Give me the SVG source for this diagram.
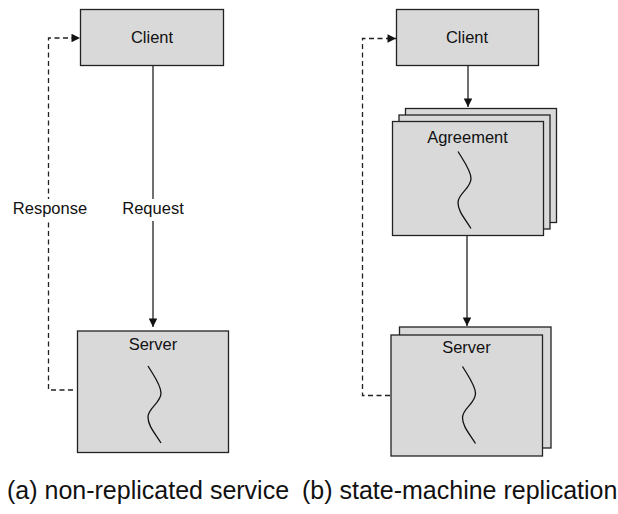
<svg xmlns="http://www.w3.org/2000/svg" xmlns:xlink="http://www.w3.org/1999/xlink" width="618" height="514" viewBox="0 0 618 514">
  <style>
    .box { fill: #d9d9d9; stroke: #222; stroke-width: 1.3; }
    .lbl { font-family: "Liberation Sans", Arial, sans-serif; font-size: 16.5px; fill: #111; text-anchor: middle; }
    .cap { font-family: "Liberation Sans", Arial, sans-serif; font-size: 25px; fill: #111; }
    .edge { fill: none; stroke: #222; stroke-width: 1.3; }
    .dash { stroke-dasharray: 5 3.5; }
    .wave { fill: none; stroke: #111; stroke-width: 1.3; }
    .bg { fill: #fff; }
  </style>
  <defs>
    <marker id="arrow" viewBox="0 0 10 10" refX="10" refY="5" markerWidth="11" markerHeight="8.5" markerUnits="userSpaceOnUse" orient="auto">
      <path d="M0,0 L10,5 L0,10 Z" fill="#111"/>
    </marker>
    <!-- thread squiggle drawn inside the process boxes -->
    <path id="thread" d="M0,0 C6,10 13,19 13,27 C13,37 0,42 0,51 C0,60 7,67 13,77"/>
  </defs>

  <!-- connectors -->
  <g id="connectors">
    <!-- (a) request / response -->
    <line class="edge" x1="153" y1="65.5" x2="153" y2="327" marker-end="url(#arrow)"/>
    <polyline class="edge dash" points="73,390 48.5,390 48.5,38 80,38" marker-end="url(#arrow)"/>
    <!-- (b) client -> agreement -> server, response back -->
    <line class="edge" x1="468" y1="65.5" x2="468" y2="107" marker-end="url(#arrow)"/>
    <line class="edge" x1="467" y1="235.5" x2="467" y2="326" marker-end="url(#arrow)"/>
    <polyline class="edge dash" points="390,395.5 362.5,395.5 362.5,38.5 396,38.5" marker-end="url(#arrow)"/>
  </g>

  <!-- edge labels -->
  <g id="label-response">
    <rect class="bg" x="12" y="199" width="76" height="22"/>
    <text class="lbl" x="50" y="214">Response</text>
  </g>
  <g id="label-request">
    <rect class="bg" x="121" y="199" width="64" height="22"/>
    <text class="lbl" x="153" y="214">Request</text>
  </g>

  <!-- (a) non-replicated service -->
  <g id="client-a">
    <rect class="box" x="80.5" y="9.5" width="143" height="56"/>
    <text class="lbl" x="152" y="43">Client</text>
  </g>
  <g id="server-a">
    <rect class="box" x="77.5" y="331" width="151" height="121.5"/>
    <text class="lbl" x="153" y="350">Server</text>
    <use xlink:href="#thread" class="wave" x="148" y="366"/>
  </g>

  <!-- (b) state-machine replication -->
  <g id="client-b">
    <rect class="box" x="396.5" y="9.5" width="142" height="56"/>
    <text class="lbl" x="467" y="43">Client</text>
  </g>
  <g id="agreement">
    <rect class="box" x="405.5" y="108.5" width="151" height="114"/>
    <rect class="box" x="399" y="115" width="151" height="114"/>
    <rect class="box" x="392.5" y="121.5" width="151" height="114"/>
    <text class="lbl" x="467.5" y="143">Agreement</text>
    <use xlink:href="#thread" class="wave" x="458" y="151.5"/>
  </g>
  <g id="server-b">
    <rect class="box" x="399.5" y="327" width="151.5" height="121"/>
    <rect class="box" x="391" y="335" width="151.5" height="121"/>
    <text class="lbl" x="466.5" y="353">Server</text>
    <use xlink:href="#thread" class="wave" x="462.5" y="366.5"/>
  </g>

  <!-- captions -->
  <text class="cap" x="7" y="499">(a) non-replicated service</text>
  <text class="cap" x="302" y="499">(b) state-machine replication</text>
</svg>
